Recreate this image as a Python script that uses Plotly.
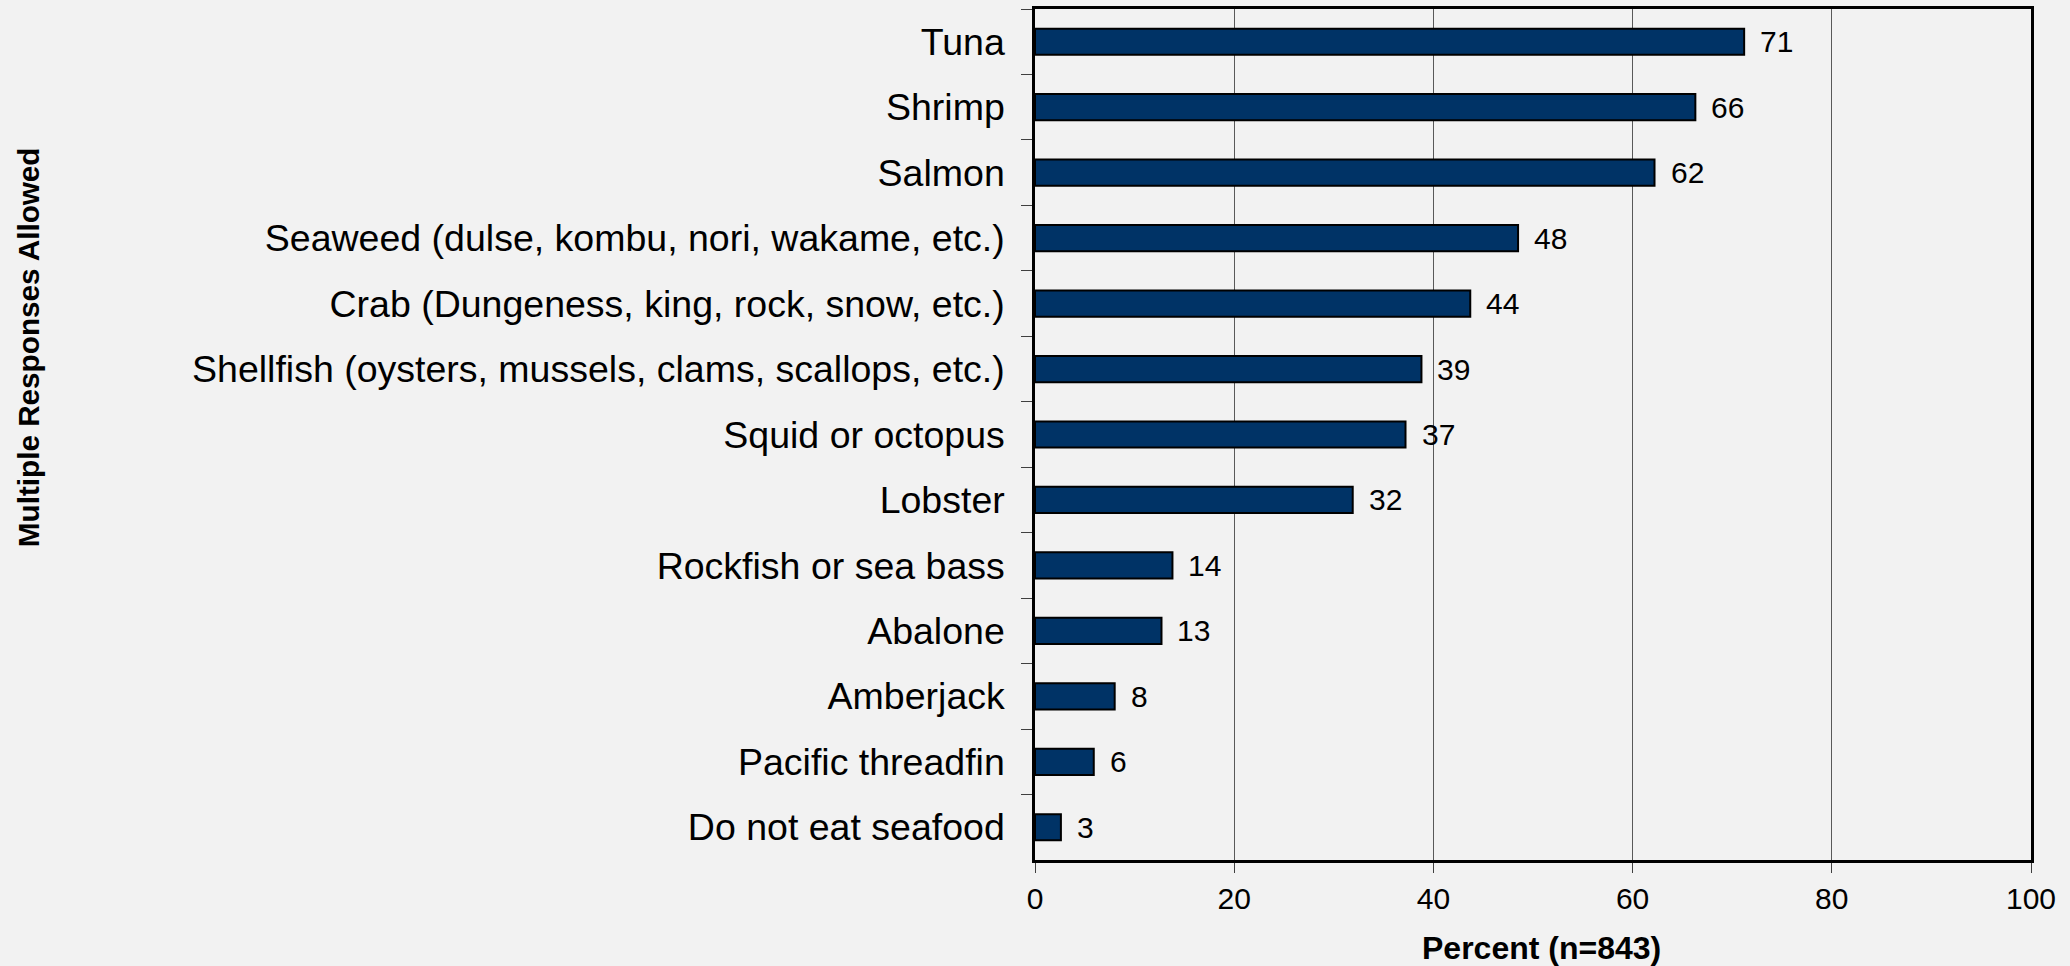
import plotly.graph_objects as go

categories = [
    "Tuna",
    "Shrimp",
    "Salmon",
    "Seaweed (dulse, kombu, nori, wakame, etc.)",
    "Crab (Dungeness, king, rock, snow, etc.)",
    "Shellfish (oysters, mussels, clams, scallops, etc.)",
    "Squid or octopus",
    "Lobster",
    "Rockfish or sea bass",
    "Abalone",
    "Amberjack",
    "Pacific threadfin",
    "Do not eat seafood",
]
values = [71.2, 66.3, 62.2, 48.5, 43.7, 38.8, 37.2, 31.9, 13.8, 12.7, 8.0, 5.9, 2.6]
value_labels = ["71", "66", "62", "48", "44", "39", "37", "32", "14", "13", "8", "6", "3"]
x_ticks = [0, 20, 40, 60, 80, 100]

FONT = "Liberation Sans, Arial, sans-serif"
BG = "#f2f2f2"

fig = go.Figure()
fig.add_trace(go.Bar(
    x=values,
    y=categories,
    orientation="h",
    marker=dict(color="#003366", line=dict(color="#000000", width=2)),
    hoverinfo="x+y",
))

annotations = []
for cat, v, lab in zip(categories, values, value_labels):
    annotations.append(dict(
        x=v, y=cat, xref="x", yref="y", text=lab, showarrow=False,
        xanchor="left", yanchor="middle", xshift=14,
        font=dict(family=FONT, size=30, color="#000000"),
    ))

# axis titles
annotations.append(dict(
    x=0.5085, y=-0.103, xref="paper", yref="paper", text="<b>Percent (n=843)</b>",
    showarrow=False, xanchor="center", yanchor="middle",
    font=dict(family=FONT, size=32, color="#000000"),
))
annotations.append(dict(
    x=-1.011, y=0.6026, xref="paper", yref="paper", text="<b>Multiple Responses Allowed</b>",
    showarrow=False, xanchor="center", yanchor="middle", textangle=-90,
    font=dict(family=FONT, size=29.7, color="#000000"),
))

fig.update_layout(
    width=2070,
    height=966,
    paper_bgcolor=BG,
    plot_bgcolor=BG,
    margin=dict(l=1035, r=39, t=6, b=106),
    bargap=0.6,
    showlegend=False,
    annotations=annotations,
    font=dict(family=FONT, color="#000000"),
    xaxis=dict(
        range=[0, 100],
        tickvals=x_ticks,
        ticktext=[str(t) for t in x_ticks],
        tickfont=dict(family=FONT, size=30, color="#000000"),
        ticks="outside",
        ticklen=10,
        tickwidth=1,
        tickcolor="#404040",
        showgrid=True,
        gridcolor="#595959",
        gridwidth=1,
        showline=True,
        linecolor="#000000",
        linewidth=2.5,
        mirror=True,
        zeroline=False,
    ),
    yaxis=dict(
        categoryorder="array",
        categoryarray=categories,
        autorange="reversed",
        tickson="boundaries",
        ticks="outside",
        ticklen=11,
        tickwidth=1,
        tickcolor="#404040",
        tickfont=dict(family=FONT, size=37.5, color="#000000"),
        ticklabelstandoff=20,
        showgrid=False,
        showline=True,
        linecolor="#000000",
        linewidth=2.5,
        mirror=True,
        zeroline=False,
    ),
)

fig.write_html(
    "out.html",
    config={"displayModeBar": False},
    post_script="document.body.style.margin='0';document.body.style.overflow='hidden';document.body.style.background='#f2f2f2';",
)
